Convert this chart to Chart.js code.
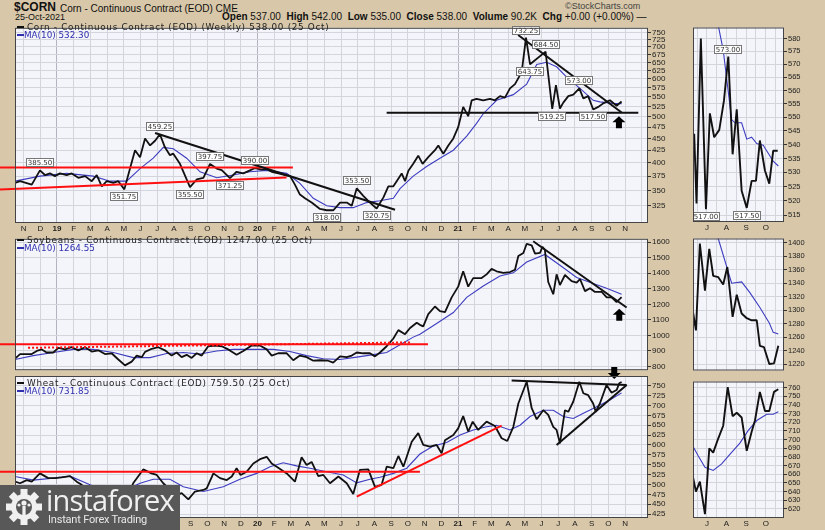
<!DOCTYPE html>
<html>
<head>
<meta charset="UTF-8">
<title>$CORN - Corn, Soybeans, Wheat</title>
<script src="https://cdn.jsdelivr.net/npm/chart.js"></script>
<style>
  body { margin: 0; background: #d8c7a8; font-family: "Liberation Sans", Arial, sans-serif; }
  #page { position: relative; width: 825px; height: 530px; overflow: hidden; }
  canvas { position: absolute; }
  .t { position: absolute; white-space: nowrap; color: #111; }
  .leg { position: absolute; left: 17px; font-family: "DejaVu Sans", Verdana, sans-serif; font-size: 8.8px; line-height: 8px; letter-spacing: 0.7px; white-space: nowrap; color: #222; z-index: 5; }
  .leg .k { display: inline-block; width: 7px; height: 2px; background: #111; vertical-align: 2px; margin-right: 3px; }
  .leg .ma { color: #2f2fb0; letter-spacing: 0; }
  .leg .ma .k { background: #2f2fb0; margin-right: 0; }
  #logo { position: absolute; left: 0; top: 485px; width: 180px; height: 45px; background: #585858; z-index: 10; }
  #logo .big { position: absolute; left: 46px; top: -5px; font-family: "Open Sans", sans-serif; font-size: 29px; color: #f0f0f0; letter-spacing: -0.8px; }
  #logo .small { position: absolute; left: 48px; top: 28px; font-family: Roboto, sans-serif; font-size: 11px; color: #e8e8e8; letter-spacing: -0.2px; }
</style>
</head>
<body>
<div id="page">
  <div class="t" style="left:14px;top:0px;font-size:12px;font-weight:bold;">$CORN</div>
  <div class="t" style="left:60px;top:3px;font-size:10px;">Corn - Continuous Contract (EOD) CME</div>
  <div class="t" style="left:15px;top:12px;font-size:9px;">25-Oct-2021</div>
  <div class="t" style="left:565px;top:1px;font-size:9px;color:#444;">©StockCharts.com</div>
  <div class="t" style="left:222px;top:11px;font-size:10px;"><b>Open</b> 537.00 &nbsp;<b>High</b> 542.00 &nbsp;<b>Low</b> 535.00 &nbsp;<b>Close</b> 538.00 &nbsp;<b>Volume</b> 90.2K &nbsp;<b>Chg</b> +0.00 (+0.00%) —</div>

  <canvas id="cornChart" width="690" height="211" style="left:0;top:22px"></canvas>
  <canvas id="soyChart" width="690" height="143" style="left:0;top:233px"></canvas>
  <canvas id="wheatChart" width="690" height="168" style="left:0;top:362px"></canvas>
  <canvas id="cornSide" width="132" height="211" style="left:693px;top:22px"></canvas>
  <canvas id="soySide" width="132" height="143" style="left:693px;top:233px"></canvas>
  <canvas id="wheatSide" width="132" height="154" style="left:693px;top:376px"></canvas>

  <div class="leg" style="top:23px"><span class="k"></span>Corn - Continuous Contract (EOD) (Weekly) 538.00 (25 Oct)<br><span class="ma"><span class="k"></span>MA(10) 532.30</span></div>
  <div class="leg" style="top:236px"><span class="k"></span>Soybeans - Continuous Contract (EOD) 1247.00 (25 Oct)<br><span class="ma"><span class="k"></span>MA(10) 1264.55</span></div>
  <div class="leg" style="top:379px"><span class="k"></span>Wheat - Continuous Contract (EOD) 759.50 (25 Oct)<br><span class="ma"><span class="k"></span>MA(10) 731.85</span></div>

  <div id="logo">
    <svg width="38" height="38" viewBox="-19 -19 38 38" style="position:absolute;left:5px;top:3px">
      <g fill="#f0f0f0">
        <circle r="13"/>
        <rect x="-3.5" y="-18" width="7" height="8"/>
        <rect x="-3.5" y="-18" width="7" height="8" transform="rotate(45)"/>
        <rect x="-3.5" y="-18" width="7" height="8" transform="rotate(90)"/>
        <rect x="-3.5" y="-18" width="7" height="8" transform="rotate(135)"/>
        <rect x="-3.5" y="-18" width="7" height="8" transform="rotate(180)"/>
        <rect x="-3.5" y="-18" width="7" height="8" transform="rotate(225)"/>
        <rect x="-3.5" y="-18" width="7" height="8" transform="rotate(270)"/>
        <rect x="-3.5" y="-18" width="7" height="8" transform="rotate(315)"/>
      </g>
      <circle r="8" fill="#585858"/>
      <circle cx="0" cy="-4" r="2.6" fill="#f0f0f0"/>
      <rect x="-1.6" y="-1" width="3.2" height="9" fill="#f0f0f0"/>
      <circle cx="-5" cy="-2" r="1.6" fill="#f0f0f0"/>
      <circle cx="5" cy="-2" r="1.6" fill="#f0f0f0"/>
    </svg>
    <div class="big">instaforex</div>
    <div class="small">Instant Forex Trading</div>
  </div>
</div>

<script>
// x values are months counted from Oct 2018 (0 = 1 Oct 2018)
const monthNames = ['O','N','D','19','F','M','A','M','J','J','A','S','O','N','D','20','F','M','A','M','J','J','A','S','O','N','D','21','F','M','A','M','J','J','A','S','O','N',''];
const sideMonthTicks = [32.5,33,33.5,34,34.5,35,35.5,36,36.5];
const sideMonthNames = ['J','A','S','O'];

// y tick labels
const cornTicks = [325,350,375,400,425,450,475,500,525,550,575,600,625,650,675,700,725,750];
const soyTicks = [800,900,1000,1100,1200,1300,1400,1500,1600];
const wheatTicks = [425,450,475,500,525,550,575,600,625,650,675,700,725,750];
const cornSideTicks = [515,520,525,530,535,540,545,550,555,560,565,570,575,580];
const soySideTicks = [1220,1240,1260,1280,1300,1320,1340,1360,1380,1400];
const wheatSideTicks = [620,630,640,650,660,670,680,690,700,710,720,730,740,750,760];

// Corn weekly
const cornX = [0.49,0.79,1.49,1.98,2.28,2.58,2.88,3.18,3.58,3.88,4.28,4.68,5.08,5.38,5.68,5.98,6.37,6.67,7.03,7.37,7.67,7.97,8.27,8.57,8.87,9.16,9.46,9.76,9.96,10.36,10.76,10.96,11.36,11.76,12.16,12.56,12.86,13.35,13.75,14.15,14.55,14.85,15.25,15.55,15.85,16.25,16.65,16.95,17.24,17.54,17.84,18.24,18.74,19.14,19.54,19.94,20.34,20.64,20.94,21.33,21.73,22.13,22.53,22.83,23.13,23.33,23.63,23.83,24.03,24.32,24.62,24.88,25.22,25.62,25.82,26.12,26.42,26.72,27.01,27.31,27.61,27.82,28.11,28.51,28.91,29.21,29.51,29.81,30.11,30.41,30.81,31.07,31.31,32.24,32.64,32.86,33.1,33.3,33.6,33.9,34.26,34.5,34.79,35.09,35.39,35.69,36.09,36.49,36.79];
const cornClose = [363,366,360,385.5,377,380,375,380,377,380,372,375,366,377,357,366,363,366,351.75,389,425,411,450,435,445,459.25,431,415,418,398,369,355.5,369,372,397.75,389,386,371.25,383,380,385.5,390,387,388,383,380,377,375,360,343,337,330,320,318,318,330,330,325,353.5,341,330,320.75,338,357,357,366,380,366,385,398,414,398,411,425,435,418,435,450,475,524,501,541,545,541,545,541,552,548,573,585,620,732.25,643.75,684.5,519.25,582,520,535,552,556,573,546,552,517.5,524,533,541,527,538];
const cornMaX = [0.49,1.98,3.58,5.17,6.17,7.17,7.97,8.76,9.36,9.96,10.76,11.56,12.56,13.55,14.55,15.55,16.75,17.54,18.34,19.14,19.94,20.73,21.53,22.33,23.13,23.53,24.32,25.12,25.92,26.72,27.52,28.11,28.51,29.31,30.31,31.11,31.71,32.3,32.9,33.5,34.3,35.09,35.49,36.29,36.79];
const cornMa = [366,375,380,375,366,366,389,409,431,428,409,383,372,377,383,385.5,380,362,337,325,322,322,330,333,337,353,375,393,409,425,455,484,507,541,556,585,643,650,636,605,573,541,537,533,532.3];

// Soybeans weekly
const soyX = [0.49,0.79,1.49,1.79,2.09,2.38,2.78,3.08,3.48,3.88,4.28,4.68,5.08,5.47,5.87,6.27,6.67,7.07,7.47,7.77,8.07,8.27,8.67,9.06,9.46,9.86,10.16,10.46,10.76,11.06,11.36,11.66,12.05,12.46,12.86,13.25,13.75,14.15,14.65,15.15,15.55,15.85,16.24,16.75,17.14,17.54,17.94,18.34,18.74,19.23,19.53,19.94,20.34,20.64,20.94,21.33,21.73,22.03,22.33,22.73,23.13,23.43,23.83,24.13,24.53,24.72,24.92,25.22,25.62,25.92,26.22,26.62,27.01,27.31,27.61,27.91,28.41,28.71,29.01,29.31,29.71,30.11,30.41,30.61,30.91,31.11,31.41,31.61,31.91,32.05,32.2,32.4,32.7,32.9,33.1,33.4,33.8,34.1,34.3,34.6,34.9,35.2,35.6,35.9,36.19,36.49,36.79];
const soyClose = [851,880,880,900,910,890,890,920,910,924,904,924,896,904,880,885,845,807,831,870,860,894,914,924,904,870,890,860,875,855,885,870,930,935,930,910,875,900,935,935,910,870,885,885,840,870,860,837,840,837,825,865,860,870,890,885,885,865,890,930,980,1034,1008,1048,1082,1068,1058,1137,1186,1156,1150,1245,1314,1413,1314,1369,1369,1393,1428,1413,1403,1408,1423,1511,1531,1590,1580,1527,1531,1570,1551,1344,1265,1393,1324,1389,1350,1340,1363,1285,1304,1280,1280,1245,1245,1215,1247];
const soyMaX = [0.49,1.58,2.78,3.98,5.17,6.37,7.57,8.57,9.56,10.56,11.56,12.56,13.55,14.75,15.95,16.94,17.94,18.94,19.94,20.94,21.93,22.73,23.53,24.32,24.72,25.72,26.72,27.52,28.51,29.51,30.31,31.11,32.2,33.1,34.1,35.09,35.89,36.79];
const soyMa = [845,870,890,910,910,890,857,857,884,890,880,900,910,910,910,896,870,850,845,860,876,890,940,989,1008,1077,1147,1245,1318,1383,1403,1472,1521,1452,1373,1334,1304,1264.55];

// Wheat weekly
const wheatX = [0.49,0.79,1.19,1.49,1.98,2.48,2.88,3.28,3.78,4.18,4.48,4.98,5.57,6.17,6.65,7.07,7.25,7.56,8.16,8.66,8.97,9.36,9.76,10.16,10.46,10.86,11.26,11.76,11.96,12.36,12.76,13.16,13.46,13.75,13.99,14.35,14.75,15.15,15.55,15.85,16.15,16.75,17.24,17.64,17.94,18.24,18.64,18.94,19.34,19.84,20.34,20.73,21.13,21.63,22.03,22.43,22.73,23.13,23.43,23.73,24.23,24.62,24.92,25.32,25.72,26.02,26.22,26.72,27.01,27.31,27.61,27.88,28.21,28.71,29.21,29.61,29.95,30.31,30.61,31.11,31.41,31.71,32.1,32.4,32.7,32.9,33.1,33.4,33.6,33.9,34.26,34.5,34.79,35.09,35.24,35.49,35.89,36.19,36.49,36.65,36.79];
const wheatClose = [507,503,511,507,528,516,516,518,521,507,499,480,462,470,440,430,470,503,538,528,524,503,486,473,478,462,482,486,490,528,516,511,520,541,524,532,553,564,570,553,545,528,507,569,549,557,521,524,503,520,503,476,537,538,494,499,545,541,572,545,608,630,600,596,600,579,612,625,642,673,634,659,638,659,648,617,610,646,705,760,693,665,688,676,646,638,604,688,684,710,760,731,726,705,684,705,752,732,739,756,759.5];
const wheatMaX = [0.49,1.58,2.78,3.78,4.98,6.17,7.07,7.97,8.76,9.76,10.56,11.76,12.95,13.95,14.95,15.75,16.54,17.34,18.14,19.14,20.13,20.94,21.73,22.33,23.13,23.93,24.72,25.52,26.32,27.12,27.91,28.71,29.31,30.11,30.71,31.31,32.1,32.7,33.3,33.9,34.5,35.3,36.09,36.79];
const wheatMa = [520,511,516,521,499,480,485,503,513,513,494,482,494,513,528,545,555,547,541,532,524,504,513,518,528,541,577,597,606,625,638,646,650,638,650,672,688,688,672,667,680,697,714,731.85];

// Side panels (recent months)
const cornSideX = [32.35,32.47,32.69,32.95,33.15,33.37,33.63,33.87,34.09,34.31,34.52,34.77,35.03,35.28,35.5,35.7,35.96,36.18,36.38,36.61];
const cornSide = [544,519,580,517,551.5,542.7,545.4,556.3,573,536.5,553,523.5,517.5,527,527,541.5,530.6,526,537.8,537.8];
const cornSideMaX = [33.45,33.83,34.26,34.43,34.77,35.03,35.28,35.54,35.87,36.38,36.64];
const cornSideMa = [590,575.5,549.2,548,548,542,542.7,540.4,539.8,534,532.3];
const soySideX = [32.27,32.44,32.64,32.9,33.12,33.32,33.58,33.83,34.04,34.31,34.52,34.77,35.03,35.28,35.54,35.7,35.91,36.18,36.42,36.64];
const soySide = [1301,1270,1399,1329,1391,1351,1349,1338,1364,1290,1323,1295,1288,1285,1285,1247,1245,1220,1221,1247];
const soySideMaX = [33.41,33.58,34.26,34.77,35.19,35.7,36.18,36.38,36.64];
const soySideMa = [1417,1406,1340,1342,1326,1304,1281,1267,1264.55];
const wheatSideX = [32.27,32.44,32.64,32.9,33.12,33.32,33.58,33.83,34.06,34.31,34.52,34.77,35.03,35.28,35.45,35.7,35.96,36.18,36.42,36.64];
const wheatSide = [659,640,651.5,614,690,685,701.5,716,760.5,727,731,725.5,687,709,722,755,733,733,755,758];
const wheatSideMaX = [32.27,32.56,32.9,33.32,33.75,34.17,34.68,35.11,35.54,36.05,36.38,36.64];
const wheatSideMa = [693,681,668,664.4,672,683,696,710.7,722,729.3,729.3,732.2];

// Annotations in data units: [x1, y1, x2, y2]
const cornRedLines = [[-0.41,391,17.12,391],[-0.41,351.6,16.74,372.6]];
const cornBlackLines = [[8.87,462,23.23,318.7],[22.73,509.6,37.79,509.6],[30.6,742,36.79,510]];
const cornPivots = [[1.98,385.5,'up'],[7.03,351.75,'down'],[9.16,459.25,'up'],[10.96,355.5,'down'],[12.16,397.75,'up'],[13.35,371.25,'down'],[14.85,390,'up'],[19.14,318,'down'],[20.94,353.5,'up'],[22.13,320.75,'down'],[31.07,732.25,'up'],[32.24,684.5,'up'],[31.31,643.75,'down'],[32.64,519.25,'down'],[34.26,573,'up'],[35.09,517.5,'down']];
const cornArrows = [[36.63,501,'up']];
const soyRedLines = [[-0.41,943,25.2,943]];
const soyDotted = [[1.27,920,24.13,955]];
const soyBlackLines = [[31.5,1606,37.09,1180]];
const soyArrows = [[36.65,1172,'up']];
const wheatRedLines = [[-0.41,532,24.72,532],[20.94,469,29.61,649]];
const wheatBlackLines = [[30.21,763,37.09,752],[32.9,600,37.09,752]];
const wheatArrows = [[36.35,767,'down']];
const cornSidePivots = [[32.95,517,'down'],[34.09,573,'up'],[35.03,517.5,'down']];

const P = (xs, ys) => xs.map((x, i) => ({ x: x, y: ys[i] }));

function panelPlugin(m) {
  return {
    id: 'panelMarks',
    beforeDraw(chart) {
      const a = chart.chartArea, ctx = chart.ctx;
      ctx.save();
      ctx.fillStyle = '#f4f4fb';
      ctx.fillRect(a.left, a.top, a.right - a.left, a.bottom - a.top);
      ctx.restore();
    },
    afterDatasetsDraw(chart) {
      const ctx = chart.ctx, sx = chart.scales.x, sy = chart.scales.y;
      const seg = (l, color, dash) => {
        ctx.beginPath();
        ctx.setLineDash(dash || []);
        ctx.strokeStyle = color;
        ctx.lineWidth = 2;
        ctx.moveTo(sx.getPixelForValue(l[0]), sy.getPixelForValue(l[1]));
        ctx.lineTo(sx.getPixelForValue(l[2]), sy.getPixelForValue(l[3]));
        ctx.stroke();
      };
      ctx.save();
      (m.red || []).forEach(l => seg(l, '#ff1010'));
      (m.dotted || []).forEach(l => seg(l, '#ff1010', [2, 2]));
      (m.black || []).forEach(l => seg(l, '#111'));
      ctx.setLineDash([]);
      (m.arrows || []).forEach(a => {
        const x = sx.getPixelForValue(a[0]), y = sy.getPixelForValue(a[1]);
        const d = a[2] === 'up' ? 1 : -1;
        ctx.beginPath();
        ctx.moveTo(x, y);
        ctx.lineTo(x + 6.5, y + 6 * d);
        ctx.lineTo(x + 3, y + 6 * d);
        ctx.lineTo(x + 3, y + 12 * d);
        ctx.lineTo(x - 3, y + 12 * d);
        ctx.lineTo(x - 3, y + 6 * d);
        ctx.lineTo(x - 6.5, y + 6 * d);
        ctx.closePath();
        ctx.fillStyle = '#000';
        ctx.fill();
      });
      (m.pivots || []).forEach(p => {
        const x = sx.getPixelForValue(p[0]), y = sy.getPixelForValue(p[1]);
        const txt = p[1].toFixed(2);
        ctx.font = '7px "DejaVu Sans", Verdana, sans-serif';
        const w = Math.round(ctx.measureText(txt).width) + 4, h = 9;
        const top = Math.round(p[2] === 'up' ? y - 3 - h : y + 3);
        const left = Math.round(x - w / 2);
        ctx.fillStyle = '#fff';
        ctx.fillRect(left, top, w, h);
        ctx.strokeStyle = '#777';
        ctx.lineWidth = 1;
        ctx.strokeRect(left + 0.5, top + 0.5, w - 1, h - 1);
        ctx.fillStyle = '#333';
        ctx.textAlign = 'center';
        ctx.textBaseline = 'middle';
        ctx.fillText(txt, left + w / 2, top + h / 2 + 0.5);
      });
      ctx.restore();
    },
    afterDraw(chart) {
      const a = chart.chartArea, ctx = chart.ctx;
      ctx.save();
      ctx.strokeStyle = '#444';
      ctx.lineWidth = 1;
      ctx.strokeRect(a.left + 0.5, a.top + 0.5, a.right - a.left - 1, a.bottom - a.top - 1);
      ctx.restore();
    }
  };
}

function buildChart(id, o) {
  return new Chart(document.getElementById(id), {
    type: 'line',
    data: {
      datasets: [
        { data: P(o.x, o.close), borderColor: '#111', borderWidth: o.lw, pointRadius: 0, tension: 0, borderJoinStyle: 'bevel' },
        { data: P(o.maX, o.ma), borderColor: '#3d3dc0', borderWidth: 1.1, pointRadius: 0, tension: 0 }
      ]
    },
    options: {
      responsive: false,
      animation: false,
      events: [],
      layout: { padding: o.pad, autoPadding: false },
      plugins: { legend: { display: false }, tooltip: { enabled: false } },
      scales: {
        x: {
          type: 'linear', min: o.xMin, max: o.xMax,
          afterBuildTicks: s => { s.ticks = o.xTicks.map(v => ({ value: v })); },
          afterFit: s => { s.height = o.xH; },
          border: { display: false },
          grid: {
            drawTicks: false,
            color: c => (c.tick && o.isYear(c.tick.value)) ? '#b4b4c0' : '#d4d4dd'
          },
          ticks: {
            display: o.xH > 0, autoSkip: false, maxRotation: 0, padding: 1, color: '#222',
            font: c => ({ family: '"Liberation Sans", Arial', size: 8, weight: (c.tick && o.isYear(c.tick.value)) ? 'bold' : 'normal' }),
            callback: v => o.xLabel(v)
          }
        },
        y: {
          type: o.log ? 'logarithmic' : 'linear', position: 'right', min: o.yMin, max: o.yMax,
          afterBuildTicks: s => { s.ticks = o.yTicks.map(v => ({ value: v })); },
          afterFit: s => { s.width = o.yW; },
          border: { display: false },
          grid: { color: '#d4d4dd', tickLength: 3, tickColor: '#333' },
          ticks: { autoSkip: false, padding: 1, color: '#222', font: { family: '"Liberation Sans", Arial', size: o.yFont }, callback: v => String(v) }
        }
      }
    },
    plugins: [panelPlugin(o.marks)]
  });
}

const mainTicks = monthNames.map((n, i) => i).slice(1);
const mainLabel = v => monthNames[Math.round(v)] || '';
const mainYear = v => ['19', '20', '21'].includes(monthNames[Math.round(v)]);
const sideLabel = v => Number.isInteger(v) ? (sideMonthNames[v - 33] || '') : '';
const sideYear = v => false;
const mainX = { xMin: 0.487, xMax: 38.37, xTicks: mainTicks, xLabel: mainLabel, isYear: mainYear, yW: 42, yFont: 8, lw: 1.8 };
const sideXo = { xMin: 32.29, xMax: 36.93, xTicks: sideMonthTicks, xLabel: sideLabel, isYear: sideYear, yW: 41, yFont: 7.5, lw: 1.9 };

buildChart('cornChart', Object.assign({}, mainX, {
  x: cornX, close: cornClose, maX: cornMaX, ma: cornMa,
  log: true, yMin: 299, yMax: 768, yTicks: cornTicks, xH: 10,
  pad: { left: 15, top: 0, right: 0, bottom: 0 },
  marks: { red: cornRedLines, black: cornBlackLines, pivots: cornPivots, arrows: cornArrows }
}));
buildChart('soyChart', Object.assign({}, mainX, {
  x: soyX, close: soyClose, maX: soyMaX, ma: soyMa,
  log: false, yMin: 776, yMax: 1622, yTicks: soyTicks, xH: 0,
  pad: { left: 15, top: 0, right: 0, bottom: 0 },
  marks: { red: soyRedLines, dotted: soyDotted, black: soyBlackLines, arrows: soyArrows }
}));
buildChart('wheatChart', Object.assign({}, mainX, {
  x: wheatX, close: wheatClose, maX: wheatMaX, ma: wheatMa,
  log: false, yMin: 415, yMax: 774.6, yTicks: wheatTicks, xH: 12,
  pad: { left: 15, top: 14, right: 0, bottom: 0 },
  marks: { red: wheatRedLines, black: wheatBlackLines, arrows: wheatArrows }
}));
buildChart('cornSide', Object.assign({}, sideXo, {
  x: cornSideX, close: cornSide, maX: cornSideMaX, ma: cornSideMa,
  log: true, yMin: 512.6, yMax: 584.3, yTicks: cornSideTicks, xH: 11,
  pad: { left: 0, top: 0, right: 0, bottom: 0 },
  marks: { pivots: cornSidePivots }
}));
buildChart('soySide', Object.assign({}, sideXo, {
  x: soySideX, close: soySide, maX: soySideMaX, ma: soySideMa,
  log: false, yMin: 1210.4, yMax: 1406.4, yTicks: soySideTicks, xH: 0,
  pad: { left: 0, top: 0, right: 0, bottom: 0 },
  marks: {}
}));
buildChart('wheatSide', Object.assign({}, sideXo, {
  x: wheatSideX, close: wheatSide, maX: wheatSideMaX, ma: wheatSideMa,
  log: false, yMin: 609.6, yMax: 767, yTicks: wheatSideTicks, xH: 12,
  pad: { left: 0, top: 0, right: 0, bottom: 0 },
  marks: {}
}));
</script>
</body>
</html>
